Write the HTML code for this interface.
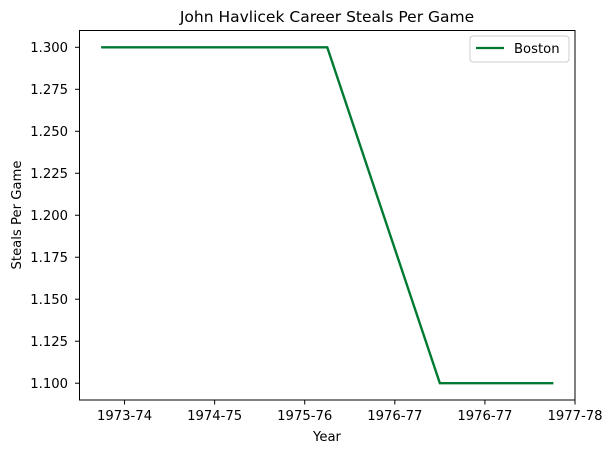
<!DOCTYPE html>
<html><head><meta charset="utf-8"><style>
body{margin:0;background:#fff;}
svg text{font-family:"DejaVu Sans","Liberation Sans",sans-serif;fill:#000;}
</style></head><body>
<svg width="613" height="453" viewBox="0 0 613 453">
<text x="327" y="22" font-size="15.5" text-anchor="middle">John Havlicek Career Steals Per Game</text>
<g id="yaxis"></g>
<g id="xaxis"></g>
<g id="plot"></g>
<rect x="79.5" y="30.5" width="495.5" height="369.5" fill="none" stroke="#000" stroke-width="1"/>
<text x="327" y="441" font-size="13.2" text-anchor="middle">Year</text>
<text transform="translate(21,215) rotate(-90)" font-size="13.2" text-anchor="middle">Steals Per Game</text>
<g>
<rect x="470" y="36" width="99" height="26" rx="3" fill="#fff" stroke="#ccc"/>
<line x1="476" y1="48" x2="504" y2="48" stroke="#007a33" stroke-width="2.2"/>
<text x="514" y="53" font-size="13.2">Boston</text>
</g>
</svg>
<script>
const xTickValues=[0,1,2,3,4,5];
const xTickLabels=["1973-74","1974-75","1975-76","1976-77","1976-77","1977-78"];
const yTickValues=[1.1,1.125,1.15,1.175,1.2,1.225,1.25,1.275,1.3];
const seriesX=[-0.26,2.25,3.5,4.76];
const seriesY=[1.3,1.3,1.1,1.1];
const NS="http://www.w3.org/2000/svg";
function xs(v){return 79.5+(v+0.5)/5.5*495.5;}
function ys(v){return 400-(v-1.09)/0.22*369.5;}
function mk(t,a,p){const e=document.createElementNS(NS,t);for(const k in a)e.setAttribute(k,a[k]);p.appendChild(e);return e;}
const ya=document.getElementById('yaxis'),xa=document.getElementById('xaxis'),pl=document.getElementById('plot');
yTickValues.forEach(v=>{const y=ys(v);
const l=mk('line',{x1:75,x2:79.5,y1:y,y2:y,stroke:'#000'},ya);


const t=mk('text',{x:68,y:y+4.6,'font-size':13.2,'text-anchor':'end'},ya);t.textContent=v.toFixed(3);

});
xTickValues.forEach((v,i)=>{const x=xs(v);
const l=mk('line',{x1:x,x2:x,y1:400,y2:404.5,stroke:'#000'},xa);


const t=mk('text',{x:x,y:420,'font-size':13.2,'text-anchor':'middle'},xa);t.textContent=xTickLabels[i];

});
const pts=seriesX.map((v,i)=>xs(v)+','+ys(seriesY[i])).join(' ');
const pg=mk('polyline',{points:pts,fill:'none',stroke:'#007a33','stroke-width':2.4},pl);


</script>
</body></html>
